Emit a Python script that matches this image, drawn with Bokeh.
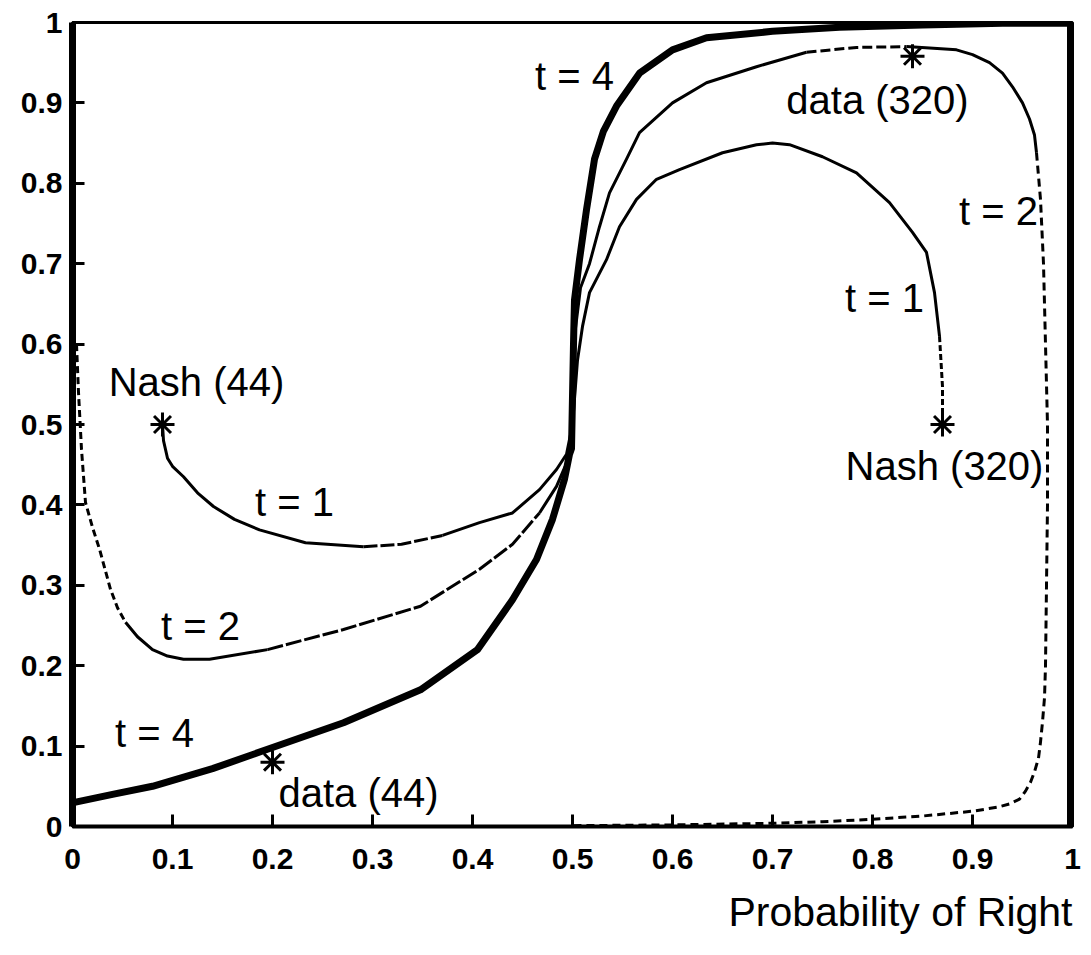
from bokeh.plotting import figure
from bokeh.models import Range1d, FixedTicker, Title, ColumnDataSource
from bokeh.embed import file_html
from bokeh.resources import INLINE
from bokeh.core.properties import value

# ---------------- data ----------------
tick_values = [0, 0.1, 0.2, 0.3, 0.4, 0.5, 0.6, 0.7, 0.8, 0.9, 1]
tick_labels = ["0", "0.1", "0.2", "0.3", "0.4", "0.5", "0.6", "0.7", "0.8", "0.9", "1"]

x_axis_title = "Probability of Right"

# t = 1 trajectory (from Nash(44) to Nash(320))
t1_x = [0.090, 0.091, 0.095, 0.100, 0.111, 0.125, 0.141, 0.162, 0.187, 0.233, 0.291, 0.329,
        0.370, 0.407, 0.440, 0.467, 0.484, 0.494, 0.500, 0.505, 0.510, 0.517, 0.534, 0.547,
        0.564, 0.584, 0.607, 0.650, 0.684, 0.700, 0.717, 0.750, 0.784, 0.817, 0.840, 0.854,
        0.862, 0.867, 0.870, 0.870]
t1_y = [0.500, 0.480, 0.458, 0.448, 0.435, 0.415, 0.398, 0.382, 0.369, 0.353, 0.348, 0.351,
        0.362, 0.378, 0.390, 0.419, 0.444, 0.463, 0.500, 0.580, 0.622, 0.664, 0.705, 0.746,
        0.780, 0.805, 0.817, 0.838, 0.848, 0.850, 0.848, 0.833, 0.813, 0.776, 0.739, 0.714,
        0.664, 0.610, 0.547, 0.500]

# t = 2 trajectory
t2_x = [0.004, 0.006, 0.009, 0.013, 0.020, 0.027, 0.038, 0.045, 0.053, 0.065, 0.080, 0.095,
        0.111, 0.137, 0.195, 0.271, 0.348, 0.407, 0.440, 0.467, 0.484, 0.492, 0.497, 0.500,
        0.503, 0.508, 0.517, 0.527, 0.537, 0.554, 0.567, 0.600, 0.634, 0.684, 0.734, 0.784,
        0.834, 0.884, 0.900, 0.917, 0.930, 0.940, 0.950, 0.957, 0.962, 0.964, 0.968, 0.971,
        0.973, 0.975, 0.975, 0.974, 0.973, 0.972, 0.970, 0.968, 0.966, 0.962, 0.958, 0.953,
        0.947, 0.937, 0.925, 0.900, 0.850, 0.800, 0.750, 0.700, 0.600, 0.500]
t2_y = [0.600, 0.540, 0.469, 0.403, 0.372, 0.345, 0.295, 0.272, 0.254, 0.236, 0.220, 0.212,
        0.208, 0.208, 0.220, 0.245, 0.274, 0.320, 0.351, 0.390, 0.423, 0.446, 0.456, 0.520,
        0.620, 0.670, 0.700, 0.746, 0.788, 0.830, 0.863, 0.900, 0.925, 0.945, 0.963, 0.969,
        0.970, 0.966, 0.960, 0.950, 0.937, 0.920, 0.900, 0.880, 0.860, 0.838, 0.780, 0.700,
        0.600, 0.500, 0.400, 0.300, 0.200, 0.160, 0.130, 0.105, 0.085, 0.068, 0.055, 0.044,
        0.034, 0.028, 0.024, 0.019, 0.013, 0.009, 0.006, 0.004, 0.002, 0.001]

# t = 4 trajectory
t4_x = [0.002, 0.040, 0.080, 0.140, 0.195, 0.271, 0.348, 0.405, 0.440, 0.464, 0.480, 0.492,
        0.497, 0.499, 0.501, 0.502, 0.507, 0.514, 0.522, 0.531, 0.544, 0.567, 0.600, 0.634,
        0.700, 0.767, 0.850, 0.930, 0.998, 0.998, 0.998]
t4_y = [0.030, 0.040, 0.050, 0.072, 0.096, 0.129, 0.170, 0.220, 0.282, 0.332, 0.382, 0.432,
        0.463, 0.470, 0.600, 0.655, 0.705, 0.767, 0.830, 0.865, 0.896, 0.937, 0.966, 0.981,
        0.989, 0.994, 0.997, 0.999, 0.999, 0.500, 0.000]

# starred points: Nash (44), data (44), data (320), Nash (320)
star_x = [0.090, 0.200, 0.840, 0.870]
star_y = [0.500, 0.080, 0.958, 0.500]

# annotations
ann_text = ["Nash (44)", "data (44)", "data (320)", "Nash (320)",
            "t = 1", "t = 2", "t = 4", "t = 4", "t = 1", "t = 2"]
ann_x = [0.124, 0.206, 0.805, 0.872, 0.222, 0.128, 0.082, 0.502, 0.812, 0.926]
ann_y = [0.553, 0.042, 0.904, 0.448, 0.404, 0.249, 0.116, 0.934, 0.657, 0.765]
ann_align = ["center", "left", "center", "center", "center", "center", "center",
             "center", "center", "center"]

# ---------------- figure ----------------
FONT = "Liberation Sans"

p = figure(width=1086, height=950, output_backend="svg", toolbar_location=None,
           x_range=Range1d(0, 1), y_range=Range1d(0, 1),
           min_border_left=72, min_border_right=14, min_border_top=22, min_border_bottom=124)
p.grid.visible = False
p.background_fill_color = "white"
p.border_fill_color = "white"
p.outline_line_color = "black"
p.outline_line_width = 3

for ax in (p.xaxis[0], p.yaxis[0]):
    ax.ticker = FixedTicker(ticks=tick_values)
    ax.major_label_overrides = dict(zip(tick_values, tick_labels))
    ax.major_tick_in = 12
    ax.major_tick_out = 0
    ax.minor_tick_line_color = None
    ax.major_tick_line_width = 3
    ax.major_tick_line_color = "black"
    ax.axis_line_color = "black"
    ax.major_label_text_font = FONT
    ax.major_label_text_font_size = "30px"
    ax.major_label_text_font_style = "bold"
    ax.major_label_text_color = "black"

p.yaxis[0].axis_line_width = 7
p.xaxis[0].axis_line_width = 4
p.yaxis[0].major_label_standoff = 10
p.xaxis[0].major_label_standoff = 22

def seg(xs, ys, i0, i1, width, dash):
    p.line(xs[i0:i1 + 1], ys[i0:i1 + 1], line_color="black", line_width=width,
           line_dash=dash, line_join="round", line_cap="butt")

# t = 1 (thin, mostly solid)
seg(t1_x, t1_y, 0, 10, 3, "solid")
seg(t1_x, t1_y, 10, 12, 3, "14 3")
seg(t1_x, t1_y, 12, 37, 3, "solid")
seg(t1_x, t1_y, 37, len(t1_x) - 1, 3, "6 3")

# t = 2 (thin, mixed dashes)
seg(t2_x, t2_y, 0, 8, 3, "7 4")
seg(t2_x, t2_y, 8, 14, 3, "solid")
seg(t2_x, t2_y, 14, 19, 3, "16 3")
seg(t2_x, t2_y, 19, 34, 3, "solid")
seg(t2_x, t2_y, 34, 36, 3, "10 4")
seg(t2_x, t2_y, 36, 45, 3, "solid")
seg(t2_x, t2_y, 45, len(t2_x) - 1, 3, "8 5")

# t = 4 (thick)
p.line(t4_x, t4_y, line_color="black", line_width=7, line_join="round")

# stars
p.scatter(star_x, star_y, marker="asterisk", size=24, line_color="black", line_width=3)

# annotation texts
src = ColumnDataSource(dict(x=ann_x, y=ann_y, text=ann_text, align=ann_align))
p.text(x="x", y="y", text="text", source=src, text_align="align", text_baseline="middle",
       text_font=value(FONT), text_font_size="40px", text_color="black")

# axis title at bottom right
p.add_layout(Title(text=x_axis_title, align="right", vertical_align="bottom",
                   text_font=FONT, text_font_size="41px", text_font_style="normal",
                   text_color="black", standoff=30), "below")

open("out.html", "w").write(file_html(p, INLINE))
